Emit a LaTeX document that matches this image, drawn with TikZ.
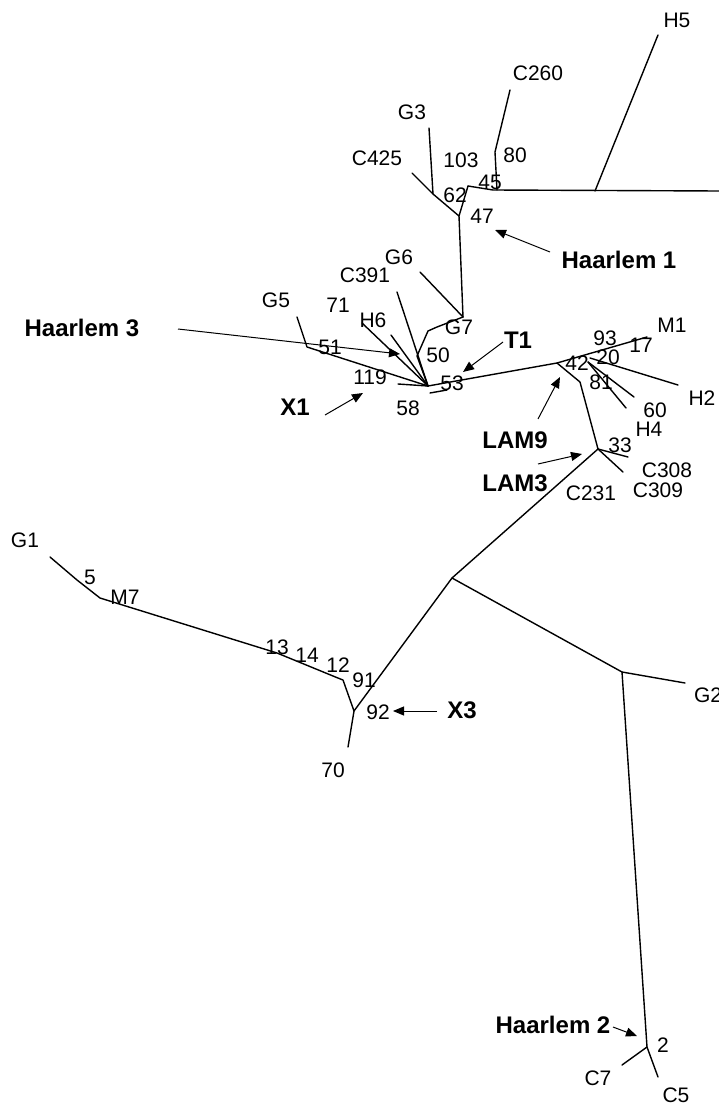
\documentclass[tikz,border=0pt]{standalone}
\usepackage{fontspec}
\setmainfont{Liberation Sans}
\usetikzlibrary{arrows.meta}
\tikzset{
  br/.style={line width=1.4pt, line join=round, line cap=round},
  lab/.style={inner sep=0pt, font=\fontsize{21}{21}\selectfont},
  blab/.style={inner sep=0pt, font=\bfseries\fontsize{24}{24}\selectfont},
  arr/.style={line width=1pt, -{Triangle[length=11pt,width=9pt]}},
}
\begin{document}
\begin{tikzpicture}[x=1pt,y=-1pt]
\useasboundingbox (0,0) rectangle (719,1105);
% ---------- tree points ----------
\coordinate (H5end) at (658,35);
\coordinate (H5base) at (595,191);
\coordinate (hR) at (719,191);
\coordinate (n45) at (493,190);
\coordinate (c260top) at (510,90);
\coordinate (c260mid) at (495,152);
\coordinate (c260bot) at (497,190);
\coordinate (n62) at (468,186);
\coordinate (nA) at (459,216);
\coordinate (c425end) at (412,173);
\coordinate (g3top) at (429,128);
\coordinate (nG3) at (433,194);
\coordinate (nG7) at (463,317);
\coordinate (g6end) at (420,272);
\coordinate (g7a) at (437,327);
\coordinate (g7b) at (428,331);
\coordinate (g7c) at (417,356);
\coordinate (nX) at (428,386);
\coordinate (g5top) at (297,317);
\coordinate (g5b) at (307,347);
\coordinate (h6end) at (362,323);
\coordinate (b71) at (391,335);
\coordinate (c391end) at (397,292);
\coordinate (s1a) at (398,384);
\coordinate (s2a) at (430,393);
\coordinate (s2b) at (447,390);
\coordinate (nL9) at (557,363);
\coordinate (m1end) at (647,337);
\coordinate (nH2) at (590,358);
\coordinate (h2end) at (678,385);
\coordinate (n60) at (588,362);
\coordinate (e60) at (634,397);
\coordinate (eH4) at (626,408);
\coordinate (l3a) at (580,382);
\coordinate (nL3) at (598,449);
\coordinate (e33) at (628,457);
\coordinate (eC30) at (623,472);
\coordinate (nC) at (452,578);
\coordinate (nX3) at (354,711);
\coordinate (e70) at (348,747);
\coordinate (p12) at (343,680);
\coordinate (p12b) at (333,676);
\coordinate (p13) at (277,653);
\coordinate (pM7) at (100,598);
\coordinate (p5) at (77,580);
\coordinate (g1end) at (50,557);
\coordinate (nG2) at (622,672);
\coordinate (g2end) at (685,683);
\coordinate (n2) at (647,1047);
\coordinate (c7end) at (622,1065);
\coordinate (c5end) at (658,1077);
% ---------- branches ----------
\draw[br] (H5end) -- (H5base);
\draw[br] (n62) -- (n45) -- (hR);
\draw[br] (c260top) -- (c260mid) -- (c260bot);
\draw[br] (n62) -- (nA);
\draw[br] (c425end) -- (nG3) -- (nA);
\draw[br] (g3top) -- (nG3);
\draw[br] (nA) -- (nG7);
\draw[br] (g6end) -- (nG7);
\draw[br] (nG7) -- (g7a) -- (g7b) -- (g7c) -- (nX);
\draw[br] (g5top) -- (g5b) -- (nX);
\draw[br] (h6end) -- (nX);
\draw[br] (b71) -- (nX);
\draw[br] (c391end) -- (nX);
\draw[br] (s1a) -- (nX);
\draw[br] (s2a) -- (s2b);
\draw[br] (nX) -- (nL9) -- (m1end);
\draw[br] (nH2) -- (h2end);
\draw[br] (n60) -- (e60);
\draw[br] (n60) -- (eH4);
\draw[br] (nL9) -- (l3a) -- (nL3);
\draw[br] (nL3) -- (e33);
\draw[br] (nL3) -- (eC30);
\draw[br] (nL3) -- (nC) -- (nX3) -- (e70);
\draw[br] (nX3) -- (p12) -- (p12b) -- (p13) -- (pM7) -- (p5) -- (g1end);
\draw[br] (nC) -- (nG2) -- (g2end);
\draw[br] (nG2) -- (n2) -- (c7end);
\draw[br] (n2) -- (c5end);
% ---------- plain labels ----------
\node[lab] (tH5) at (677,20) {H5};
\node[lab] (tC260) at (538,73) {C260};
\node[lab] (tG3) at (412,112) {G3};
\node[lab] (tC425) at (377,158) {C425};
\node[lab] (t103) at (461,160) {103};
\node[lab] (t80) at (515,155) {80};
\node[lab] (t45) at (490,182) {45};
\node[lab] (t62) at (455,195) {62};
\node[lab] (t47) at (482,216) {47};
\node[lab] (tG6) at (399,257) {G6};
\node[lab] (tC391) at (365,275) {C391};
\node[lab] (t71) at (338,305) {71};
\node[lab] (tH6) at (373,320) {H6};
\node[lab] (tG7) at (459,327) {G7};
\node[lab] (t50) at (438,355) {50};
\node[lab] (t51) at (330,347) {51};
\node[lab] (t119) at (370,377) {119};
\node[lab] (t53) at (452,383) {53};
\node[lab] (t58) at (408,408) {58};
\node[lab] (tG5) at (276,300) {G5};
\node[lab] (tM1) at (672,325) {M1};
\node[lab] (t93) at (605,338) {93};
\node[lab] (t17) at (641,345) {17};
\node[lab] (t20) at (608,357) {20};
\node[lab] (t42) at (577,363) {42};
\node[lab] (t81) at (601,382) {81};
\node[lab] (tH2) at (702,398) {H2};
\node[lab] (t60) at (655,410) {60};
\node[lab] (tH4) at (649,429) {H4};
\node[lab] (t33) at (620,445) {33};
\node[lab] (tC308) at (667,470) {C308};
\node[lab] (tC309) at (658,490) {C309};
\node[lab] (tC231) at (591,493) {C231};
\node[lab] (tG1) at (25,540) {G1};
\node[lab] (t5) at (90,577) {5};
\node[lab] (tM7) at (125,597) {M7};
\node[lab] (t13) at (277,647) {13};
\node[lab] (t14) at (307,655) {14};
\node[lab] (t12) at (338,665) {12};
\node[lab] (t91) at (364,680) {91};
\node[lab] (t92) at (378,712) {92};
\node[lab] (t70) at (333,770) {70};
\node[lab] (tG2) at (708,695) {G2};
\node[lab] (t2) at (663,1045) {2};
\node[lab] (tC7) at (598,1078) {C7};
\node[lab] (tC5) at (676,1095) {C5};
% ---------- bold labels ----------
\node[blab] (bH1) at (619,260) {Haarlem 1};
\node[blab] (bH3) at (82,328) {Haarlem 3};
\node[blab] (bX1) at (295,407) {X1};
\node[blab] (bT1) at (518,340) {T1};
\node[blab] (bL9) at (515,440) {LAM9};
\node[blab] (bL3) at (515,483) {LAM3};
\node[blab] (bX3) at (462,710) {X3};
\node[blab] (bH2) at (553,1025) {Haarlem 2};
% ---------- arrows ----------
\coordinate (a1s) at (550,252); \coordinate (a1t) at (495,230);
\coordinate (a3s) at (178,329); \coordinate (a3t) at (400,354);
\coordinate (axs) at (325,415); \coordinate (axt) at (363,393);
\coordinate (ats) at (503,342); \coordinate (att) at (463,372);
\coordinate (a9s) at (538,419); \coordinate (a9t) at (560,377);
\coordinate (als) at (538,464); \coordinate (alt) at (582,454);
\coordinate (a3xs) at (437,711); \coordinate (a3xt) at (393,711);
\coordinate (a2s) at (613,1027); \coordinate (a2t) at (637,1036);
\draw[arr] (a1s) -- (a1t);
\draw[arr] (a3s) -- (a3t);
\draw[arr] (axs) -- (axt);
\draw[arr] (ats) -- (att);
\draw[arr] (a9s) -- (a9t);
\draw[arr] (als) -- (alt);
\draw[arr] (a3xs) -- (a3xt);
\draw[arr] (a2s) -- (a2t);
\end{tikzpicture}
\end{document}
